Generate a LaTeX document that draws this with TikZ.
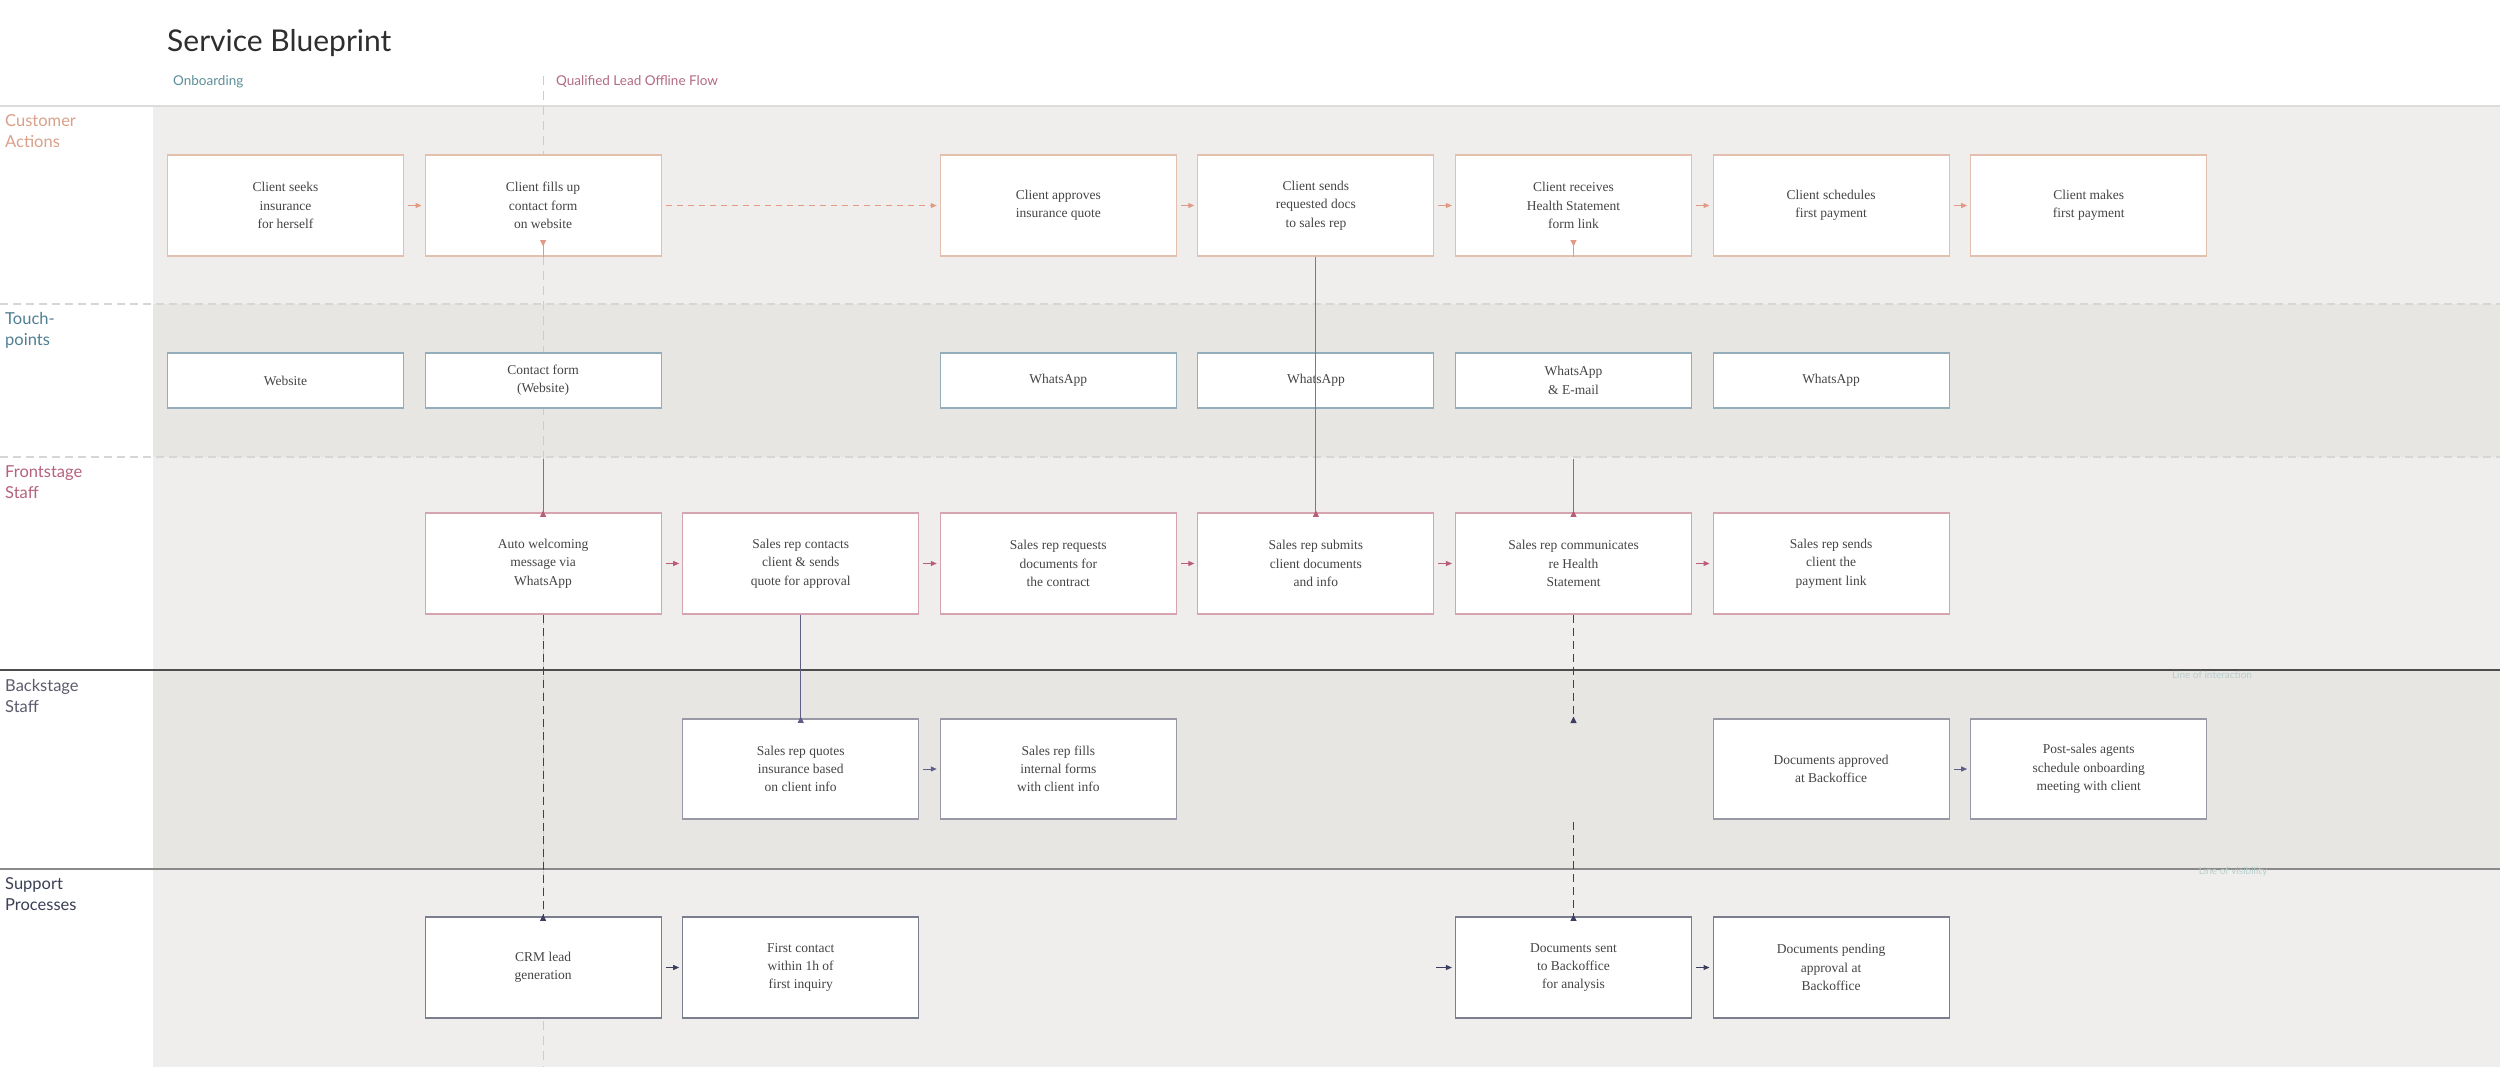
\documentclass[tikz,border=0pt]{standalone}
\usepackage{fontspec}
\setmainfont{Liberation Serif}
\newfontfamily\labelfont{Lato}
\usetikzlibrary{arrows.meta,calc}
\definecolor{lanelight}{HTML}{EFEEEC}
\definecolor{lanedark}{HTML}{E7E6E3}
\definecolor{topline}{HTML}{DCDCDC}
\definecolor{sepdash}{HTML}{D6D6D6}
\definecolor{lineint}{HTML}{4D4D4D}
\definecolor{linevis}{HTML}{8A8A8A}
\definecolor{boxtext}{HTML}{454545}
\definecolor{custborder}{HTML}{E3BFAE}
\definecolor{custarrow}{HTML}{E39A85}
\definecolor{tpborder}{HTML}{93AEBA}
\definecolor{frborder}{HTML}{D6A3B1}
\definecolor{frarrow}{HTML}{B85C77}
\definecolor{bkborder}{HTML}{9898A6}
\definecolor{bkarrow}{HTML}{5E5E88}
\definecolor{spborder}{HTML}{7A7E8E}
\definecolor{sparrow}{HTML}{3A3F60}
\definecolor{dividerc}{HTML}{CCCCCC}
\definecolor{lblcust}{HTML}{D9A08A}
\definecolor{lbltp}{HTML}{4F7F92}
\definecolor{lblfr}{HTML}{B5637C}
\definecolor{lblbk}{HTML}{5C5C6E}
\definecolor{lblsp}{HTML}{3A3F55}
\definecolor{lblonb}{HTML}{5C8F99}
\definecolor{lblqual}{HTML}{B26B80}
\definecolor{faintc}{HTML}{B9CFCF}
\begin{document}
\begin{tikzpicture}[x=1pt,y=-1pt,
  bx/.style={draw, fill=white, line width=1.1pt, minimum width=236pt, minimum height=101pt,
    align=center, font=\fontsize{13.5}{18.3}\selectfont, text=boxtext, inner sep=0pt},
  custbox/.style={bx, draw=custborder},
  tpbox/.style={bx, draw=tpborder, minimum height=55pt},
  frbox/.style={bx, draw=frborder},
  bkbox/.style={bx, draw=bkborder, minimum height=100pt},
  spbox/.style={bx, draw=spborder},
  hop/.style={line width=1pt, shorten <=4pt, shorten >=3pt, -{Triangle[length=6pt,width=5pt]}},
  uptip/.style={line width=1pt, -{Triangle[reversed,length=6.5pt,width=6pt]}},
  lanelbl/.style={anchor=north west, align=left, inner sep=0pt, font=\labelfont\fontsize{16.5}{21}\selectfont},
  faint/.style={text=faintc, font=\labelfont\fontsize{10}{12}\selectfont, inner sep=0pt}
]
\useasboundingbox (0,0) rectangle (2500,1087);
\fill[white] (0,0) rectangle (2500,1087);
% lanes
\fill[lanelight] (153,106) rectangle (2500,304);
\fill[lanedark] (153,304) rectangle (2500,457);
\fill[lanelight] (153,457) rectangle (2500,670);
\fill[lanedark] (153,670) rectangle (2500,869);
\fill[lanelight] (153,869) rectangle (2500,1067);
% lane separators
\draw[topline, line width=2pt] (0,106) -- (2500,106);
\draw[sepdash, line width=1.5pt, dash pattern=on 8pt off 5pt] (0,304) -- (2500,304);
\draw[sepdash, line width=1.5pt, dash pattern=on 8pt off 5pt] (0,457) -- (2500,457);
\draw[lineint, line width=2.5pt] (0,670) -- (2500,670);
\draw[linevis, line width=2pt] (0,869) -- (2500,869);
\node[faint] (loi) at (2212,675) {Line of interaction};
\node[faint] (lov) at (2233,872) {Line of visibility};
% phase divider
\coordinate (divtop) at (543.1,76);
\coordinate (divbot) at (543.1,1067);
\draw[dividerc, line width=1pt, dash pattern=on 9pt off 6pt] (divtop) -- (divbot);
% title and headers
\node[anchor=base west, inner sep=0pt, font=\labelfont\fontsize{30}{36}\selectfont, text=black!82] (title) at (167,51) {Service Blueprint};
\node[anchor=west, inner sep=0pt, font=\labelfont\fontsize{13.5}{16}\selectfont, text=lblonb] (onb) at (173,82) {Onboarding};
\node[anchor=west, inner sep=0pt, font=\labelfont\fontsize{13.5}{16}\selectfont, text=lblqual] (qual) at (556,82) {Qualified Lead Offline Flow};
% lane labels
\node[lanelbl, text=lblcust] (lcust) at (5,114) {Customer\\Actions};
\node[lanelbl, text=lbltp] (ltp) at (5,312) {Touch-\\points};
\node[lanelbl, text=lblfr] (lfr) at (5,465) {Frontstage\\Staff};
\node[lanelbl, text=lblbk] (lbk) at (5,679) {Backstage\\Staff};
\node[lanelbl, text=lblsp] (lsp) at (5,877) {Support\\Processes};
% customer actions
\node[custbox] (c1) at (285.5,205.5) {Client seeks\\insurance\\for herself};
\node[custbox] (c2) at (543.1,205.5) {Client fills up\\contact form\\on website};
\node[custbox] (c4) at (1058.3,205.5) {Client approves\\insurance quote};
\node[custbox] (c5) at (1315.9,205.5) {Client sends\\requested docs\\to sales rep};
\node[custbox] (c6) at (1573.5,205.5) {Client receives\\Health Statement\\form link};
\node[custbox] (c7) at (1831.1,205.5) {Client schedules\\first payment};
\node[custbox] (c8) at (2088.7,205.5) {Client makes\\first payment};
% touchpoints
\node[tpbox] (t1) at (285.5,380.5) {Website};
\node[tpbox] (t2) at (543.1,380.5) {Contact form\\(Website)};
\node[tpbox] (t4) at (1058.3,380.5) {WhatsApp};
\node[tpbox] (t5) at (1315.9,380.5) {WhatsApp};
\node[tpbox] (t6) at (1573.5,380.5) {WhatsApp\\\& E-mail};
\node[tpbox] (t7) at (1831.1,380.5) {WhatsApp};
% frontstage
\node[frbox] (f2) at (543.1,563.5) {Auto welcoming\\message via\\WhatsApp};
\node[frbox] (f3) at (800.7,563.5) {Sales rep contacts\\client \& sends\\quote for approval};
\node[frbox] (f4) at (1058.3,563.5) {Sales rep requests\\documents for\\the contract};
\node[frbox] (f5) at (1315.9,563.5) {Sales rep submits\\client documents\\and info};
\node[frbox] (f6) at (1573.5,563.5) {Sales rep communicates\\re Health\\Statement};
\node[frbox] (f7) at (1831.1,563.5) {Sales rep sends\\client the\\payment link};
% backstage
\node[bkbox] (b3) at (800.7,769) {Sales rep quotes\\insurance based\\on client info};
\node[bkbox] (b4) at (1058.3,769) {Sales rep fills\\internal forms\\with client info};
\node[bkbox] (b7) at (1831.1,769) {Documents approved\\at Backoffice};
\node[bkbox] (b8) at (2088.7,769) {Post-sales agents\\schedule onboarding\\meeting with client};
% support
\node[spbox] (s2) at (543.1,967.5) {CRM lead\\generation};
\node[spbox] (s3) at (800.7,967.5) {First contact\\within 1h of\\first inquiry};
\node[spbox] (s6) at (1573.5,967.5) {Documents sent\\to Backoffice\\for analysis};
\node[spbox] (s7) at (1831.1,967.5) {Documents pending\\approval at\\Backoffice};
% horizontal flow: customer
\draw[hop, custarrow] (c1) -- (c2);
\draw[hop, custarrow, dash pattern=on 6pt off 5pt] (c2) -- (c4);
\draw[hop, custarrow] (c4) -- (c5);
\draw[hop, custarrow] (c5) -- (c6);
\draw[hop, custarrow] (c6) -- (c7);
\draw[hop, custarrow] (c7) -- (c8);
% frontstage
\draw[hop, frarrow] (f2) -- (f3);
\draw[hop, frarrow] (f3) -- (f4);
\draw[hop, frarrow] (f4) -- (f5);
\draw[hop, frarrow] (f5) -- (f6);
\draw[hop, frarrow] (f6) -- (f7);
% backstage
\draw[hop, bkarrow] (b3) -- (b4);
\draw[hop, bkarrow] (b7) -- (b8);
% support
\coordinate (sin) at (1436,967.5);
\draw[hop, sparrow, shorten <=0pt] (sin) -- (s6);
\draw[hop, sparrow] (s2) -- (s3);
\draw[hop, sparrow] (s6) -- (s7);
% vertical connectors
\coordinate (c2tip) at (543.1,240);
\coordinate (c6tip) at (1573.5,240);
\draw[uptip, custarrow] (c2.south) -- (c2tip);
\draw[uptip, custarrow] (c6.south) -- (c6tip);
\coordinate (f2in) at (543.1,459);
\coordinate (f6in) at (1573.5,459);
\draw[uptip, frarrow] (f2in) -- ($(f2.north)+(0,4.5)$);
\draw[uptip, frarrow] (f6in) -- ($(f6.north)+(0,4.5)$);
\draw[uptip, frarrow] (c5.south) -- ($(f5.north)+(0,4.5)$);
\draw[uptip, bkarrow] (f3.south) -- ($(b3.north)+(0,4.5)$);
\draw[uptip, sparrow, dash pattern=on 8pt off 5pt] (f2.south) -- ($(s2.north)+(0,4.5)$);
\coordinate (f6gapa) at (1573.5,723);
\coordinate (f6gapb) at (1573.5,822);
\draw[uptip, sparrow, dash pattern=on 8pt off 5pt] (f6.south) -- (f6gapa);
\draw[uptip, sparrow, dash pattern=on 8pt off 5pt] (f6gapb) -- ($(s6.north)+(0,4.5)$);
\end{tikzpicture}
\end{document}
